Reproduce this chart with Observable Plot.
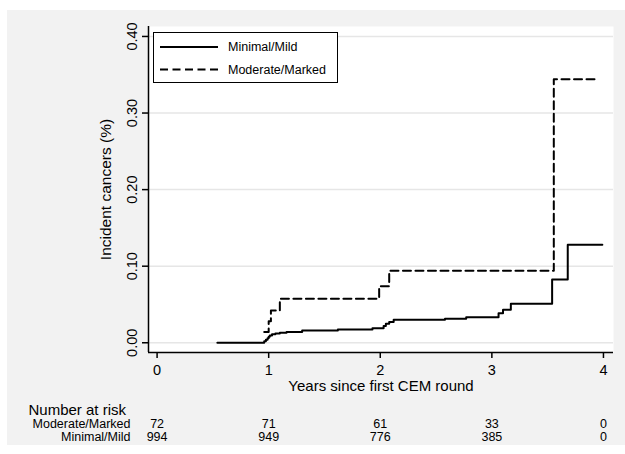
<!DOCTYPE html>
<html>
<head>
<meta charset="utf-8">
<script src="https://cdn.jsdelivr.net/npm/d3@7"></script>
<script src="https://cdn.jsdelivr.net/npm/@observablehq/plot@0.6"></script>
<style>
html, body { margin: 0; padding: 0; background: #ffffff; }
#wrap { position: relative; width: 625px; height: 454px; font-family: "Liberation Sans", Arial, sans-serif; }
#panel { position: absolute; left: 7px; top: 10px; width: 618px; height: 435px; background: #f2f2f2; }
#chart { position: absolute; left: 0; top: 0; }
#legend { position: absolute; left: 153px; top: 32px; width: 185px; height: 51px; box-sizing: border-box;
          border: 1.3px solid #000; background: #fff; }
</style>
</head>
<body>
<div id="wrap"><div id="panel"></div><div id="chart"></div><div id="legend"></div></div>
<script>
// ---- data ----
const seriesNames = ["Minimal/Mild", "Moderate/Marked"];

// Minimal/Mild cumulative incidence (years, value)
const mildTimes  = [0.54, 0.96, 0.975, 0.99, 1.00, 1.01, 1.03, 1.06, 1.10, 1.16, 1.30, 1.62, 1.93, 2.03, 2.05, 2.08, 2.12, 2.58, 2.77, 3.06, 3.10, 3.17, 3.54, 3.68, 3.99];
const mildValues = [0.000, 0.002, 0.004, 0.006, 0.008, 0.0095, 0.011, 0.012, 0.013, 0.014, 0.016, 0.0172, 0.019, 0.022, 0.025, 0.027, 0.030, 0.0313, 0.0334, 0.0387, 0.0431, 0.051, 0.0825, 0.128, 0.128];

// Moderate/Marked cumulative incidence (years, value)
const modTimes  = [0.96, 1.00, 1.02, 1.10, 1.99, 2.08, 3.555, 3.96];
const modValues = [0.014, 0.028, 0.042, 0.0575, 0.0739, 0.094, 0.344, 0.344];

// axes
const xTicks = [0, 1, 2, 3, 4];
const yTicks = [0, 0.1, 0.2, 0.3, 0.4];
const xDomain = [-0.077, 4.09];
const yDomain = [-0.0127, 0.413];

// number at risk
const riskTimes = [0, 1, 2, 3, 4];
const riskModerate = [72, 71, 61, 33, 0];
const riskMild = [994, 949, 776, 385, 0];

// ---- build tables ----
const mild = mildTimes.map((t, i) => ({t, v: mildValues[i]}));
const moderate = modTimes.map((t, i) => ({t, v: modValues[i]}));
const fmt2 = d3.format(".2f");
const FONT = "Liberation Sans, Arial, sans-serif";
const DASH = "8,4.5";

const chart = Plot.plot({
  width: 625,
  height: 454,
  marginLeft: 148,
  marginRight: 12,
  marginTop: 26,
  marginBottom: 102,
  style: {background: "transparent", fontFamily: FONT, overflow: "visible", color: "#000"},
  x: {domain: xDomain, axis: null},
  y: {domain: yDomain, axis: null},
  marks: [
    Plot.frame({fill: "white", stroke: null}),
    Plot.ruleY(yTicks, {stroke: "#e6e6e6", strokeWidth: 1.5}),
    Plot.line(mild, {x: "t", y: "v", curve: "step-after", stroke: "#000", strokeWidth: 2}),
    Plot.line(moderate, {x: "t", y: "v", curve: "step-after", stroke: "#000", strokeWidth: 2, strokeDasharray: DASH}),
    Plot.ruleX([xDomain[0]], {stroke: "#000", strokeWidth: 1.5}),
    Plot.ruleY([yDomain[0]], {stroke: "#000", strokeWidth: 1.5}),
    Plot.axisX({ticks: xTicks, tickSize: 6, tickPadding: 6, fontSize: 14.5, label: null, tickFormat: d => String(d), strokeWidth: 1.5}),
    Plot.axisY({ticks: yTicks, tickSize: 6, tickFormat: () => "", label: null, strokeWidth: 1.5}),
    Plot.text(yTicks, {y: d => d, text: d => fmt2(d), frameAnchor: "left", dx: -12, rotate: -90,
                       lineAnchor: "bottom", textAnchor: "middle", fontSize: 14.5}),
    Plot.text(["Years since first CEM round"], {text: d => d, frameAnchor: "bottom", dy: 38.5, lineAnchor: "bottom", fontSize: 15}),
    Plot.text(["Incident cancers (%)"], {text: d => d, frameAnchor: "left", dx: -38, rotate: -90,
                       lineAnchor: "bottom", textAnchor: "middle", fontSize: 15.5}),
    // number at risk table
    Plot.text(["Number at risk"], {text: d => d, frameAnchor: "bottom-left", dx: -120, dy: 62, textAnchor: "start", lineAnchor: "bottom", fontSize: 15}),
    Plot.text([seriesNames[1]], {text: d => d, frameAnchor: "bottom-left", dx: -18, dy: 75.5, textAnchor: "end", lineAnchor: "bottom", fontSize: 12.5}),
    Plot.text([seriesNames[0]], {text: d => d, frameAnchor: "bottom-left", dx: -18, dy: 88.5, textAnchor: "end", lineAnchor: "bottom", fontSize: 12.5}),
    Plot.text(riskTimes, {x: d => d, text: (d, i) => String(riskModerate[i]), frameAnchor: "bottom", dy: 75.5, lineAnchor: "bottom", fontSize: 12.5}),
    Plot.text(riskTimes, {x: d => d, text: (d, i) => String(riskMild[i]), frameAnchor: "bottom", dy: 88.5, lineAnchor: "bottom", fontSize: 12.5})
  ]
});
document.getElementById("chart").appendChild(chart);

// ---- legend ----
const lg = d3.select("#legend").append("svg").attr("width", 183).attr("height", 49)
  .style("display", "block").style("font-family", FONT);
const styles = [null, DASH];
seriesNames.forEach((name, i) => {
  const cy = i === 0 ? 14 : 36.5;
  lg.append("line").attr("x1", 6).attr("x2", 64).attr("y1", cy).attr("y2", cy)
    .attr("stroke", "#000").attr("stroke-width", 2).attr("stroke-dasharray", styles[i]);
  lg.append("text").attr("x", 74).attr("y", cy).attr("dy", "0.35em")
    .attr("font-size", 12.5).attr("fill", "#000").text(name);
});
</script>
</body>
</html>
